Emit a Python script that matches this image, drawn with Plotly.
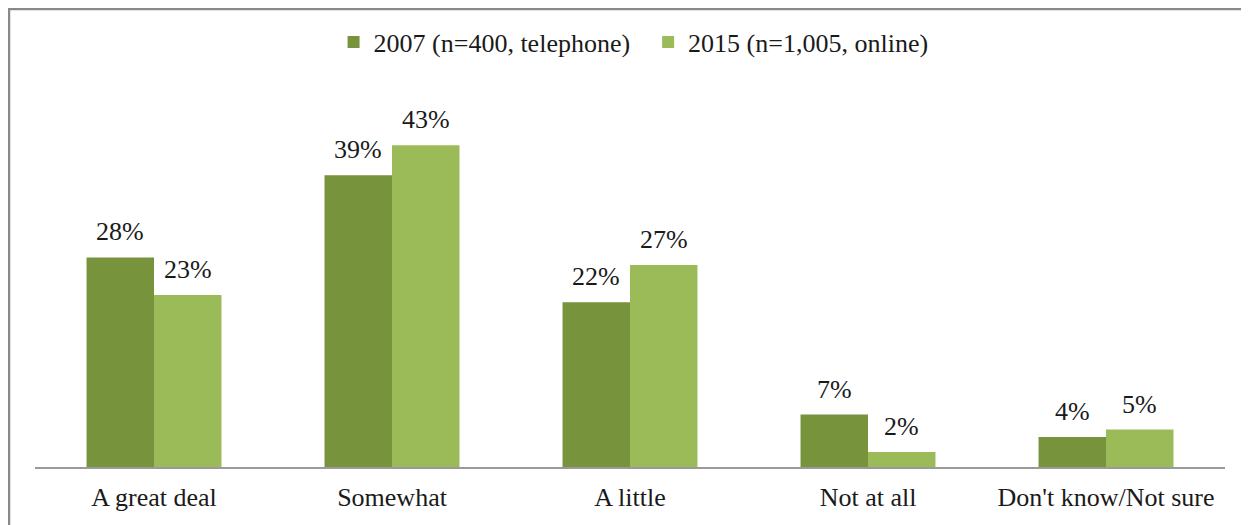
import plotly.graph_objects as go

categories = ["A great deal", "Somewhat", "A little", "Not at all", "Don't know/Not sure"]
series_2007 = [28, 39, 22, 7, 4]
series_2015 = [23, 43, 27, 2, 5]
name_2007 = "2007 (n=400, telephone)"
name_2015 = "2015 (n=1,005, online)"

font_family = "Liberation Serif, Times New Roman, serif"
FS = 26
TXT = "#1a1a1a"

fig = go.Figure()
fig.add_trace(go.Bar(
    x=categories, y=series_2007, name=name_2007 + "\u00a0\u00a0",
    marker=dict(color="#77933C", line=dict(width=0)),
))
fig.add_trace(go.Bar(
    x=categories, y=series_2015, name=name_2015,
    marker=dict(color="#9BBB59", line=dict(width=0)),
))

# page body has an 8px margin, so figure coords = screen coords - 8
OFF = 8
W, H = 1249 - OFF, 525 - OFF
ml, mr, mt, mb = 35 - OFF, 24, 18 - OFF, 58
pw, ph = W - ml - mr, H - mt - mb
BARGAP = 0.433
bar_px = pw / len(categories) * (1 - BARGAP) / 2

def px(x):
    return (x - OFF - ml) / pw

def py(y):
    return (H - mb - (y - OFF)) / ph

annotations = []
for series, sgn in ((series_2007, -1), (series_2015, 1)):
    for cat, v in zip(categories, series):
        annotations.append(dict(
            x=cat, y=v, xref="x", yref="y", text=f"{v}%", showarrow=False,
            xanchor="center", yanchor="bottom", xshift=sgn * bar_px / 2, yshift=9,
            font=dict(size=FS, family=font_family, color=TXT),
        ))

fig.update_layout(
    width=W, height=H,
    margin=dict(l=ml, r=mr, t=mt, b=mb),
    paper_bgcolor="white", plot_bgcolor="white",
    barmode="group", bargap=BARGAP, bargroupgap=0,
    font=dict(family=font_family, size=FS, color=TXT),
    showlegend=True,
    legend=dict(orientation="h", x=0.503, xanchor="center", y=py(42), yanchor="middle",
                font=dict(size=FS, family=font_family, color=TXT),
                itemwidth=30, tracegroupgap=0, bgcolor="rgba(0,0,0,0)"),
    xaxis=dict(showgrid=False, showline=True, linecolor="#9a9a9a", linewidth=1.5,
               ticks="", ticklabelstandoff=6,
               tickfont=dict(size=FS, family=font_family, color=TXT)),
    yaxis=dict(range=[0, 60], showgrid=False, showticklabels=False, zeroline=False,
               showline=False, ticks=""),
    annotations=annotations,
    shapes=[dict(type="rect", xref="paper", yref="paper",
                 x0=px(OFF + 1), x1=px(1243), y0=py(560), y1=py(OFF + 1),
                 line=dict(color="#8a8a8a", width=2.5), fillcolor="rgba(0,0,0,0)")],
)

fig.write_html("out.html")
